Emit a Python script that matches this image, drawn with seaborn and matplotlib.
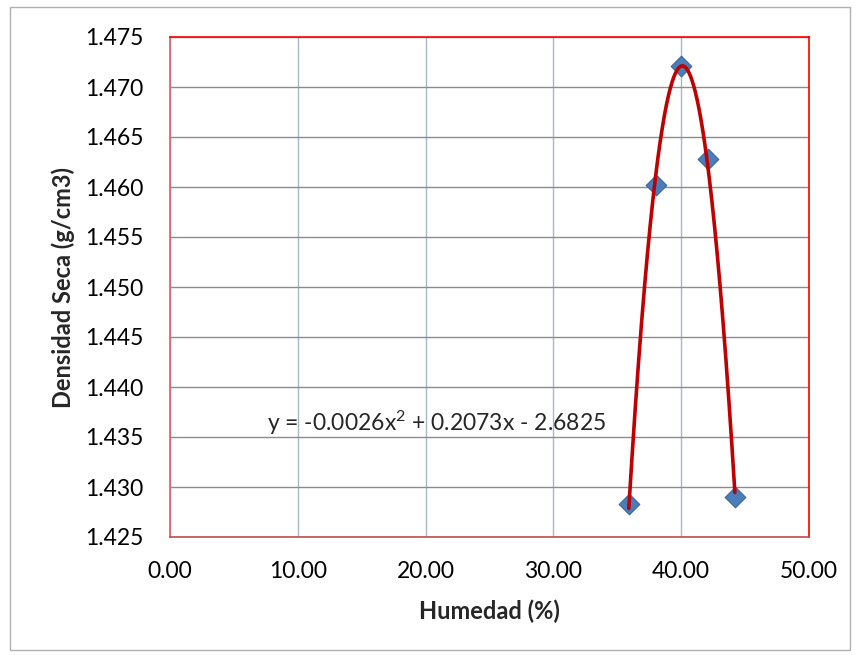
import numpy as np
import pandas as pd
import matplotlib
matplotlib.use("Agg")
import matplotlib.pyplot as plt
import seaborn as sns
from matplotlib.patches import Rectangle

humedad = [35.9, 38.0, 40.0, 42.1, 44.2]
densidad = [1.4283, 1.4602, 1.4721, 1.4628, 1.4290]
x_ticks = [0, 10, 20, 30, 40, 50]
y_ticks = [1.425, 1.430, 1.435, 1.440, 1.445, 1.450, 1.455, 1.460, 1.465, 1.470, 1.475]
equation = "y = -0.0026x$^{2}$ + 0.2073x - 2.6825"

sns.set_theme(style="white")
plt.rcParams['font.family'] = ['Lato', 'DejaVu Sans']
plt.rcParams['mathtext.default'] = 'regular'

fig = plt.figure(figsize=(8.59, 6.55), dpi=100)
ax = fig.add_axes([170/859, 1-537/655, (809-170)/859, (537-37)/655])

df = pd.DataFrame({"Humedad": humedad, "Densidad": densidad})
coef = np.polyfit(df["Humedad"], df["Densidad"], 2)
xs = np.linspace(min(humedad), max(humedad), 200)
fit = pd.DataFrame({"x": xs, "y": np.polyval(coef, xs)})

for xv in x_ticks:
    ax.axvline(xv, color="#a8b6c8", lw=1.0, zorder=0)
for yv in y_ticks:
    ax.axhline(yv, color="#8c8c8c", lw=1.0, zorder=0)

sns.scatterplot(data=df, x="Humedad", y="Densidad", marker="D", s=110,
                color="#4a7ebb", edgecolor="#3a6599", linewidth=0.8, ax=ax, zorder=3)
sns.lineplot(data=fit, x="x", y="y", color="#c00000", lw=2.6, ax=ax, zorder=4)

ax.set_xlim(0, 50)
ax.set_ylim(1.425, 1.475)
ax.set_xticks(x_ticks)
ax.set_xticklabels([f"{v:.2f}" for v in x_ticks])
ax.set_yticks(y_ticks)
ax.set_yticklabels([f"{v:.3f}" for v in y_ticks])
ax.tick_params(axis="both", labelsize=16.5, length=0, colors="black")
ax.tick_params(axis="y", pad=19)
ax.tick_params(axis="x", pad=17)

for s in ax.spines.values():
    s.set_color("#ff0000")
    s.set_linewidth(1.2)
ax.spines["bottom"].set_color("#c0504d")
ax.spines["left"].set_color("#e06060")

ax.set_xlabel("Humedad (%)", fontsize=17, fontweight="bold", labelpad=13)
ax.set_ylabel("Densidad Seca (g/cm3)", fontsize=17, fontweight="bold", labelpad=7)

ax.text(7.6, 1.4364, equation, fontsize=16.5, ha="left", va="center")

fig.patches.append(Rectangle((10/859, 1-650/655), 840/859, 643/655,
                             transform=fig.transFigure, fill=False,
                             edgecolor="#b0b0b0", lw=1.0))

fig.savefig("out.png", dpi=100)
